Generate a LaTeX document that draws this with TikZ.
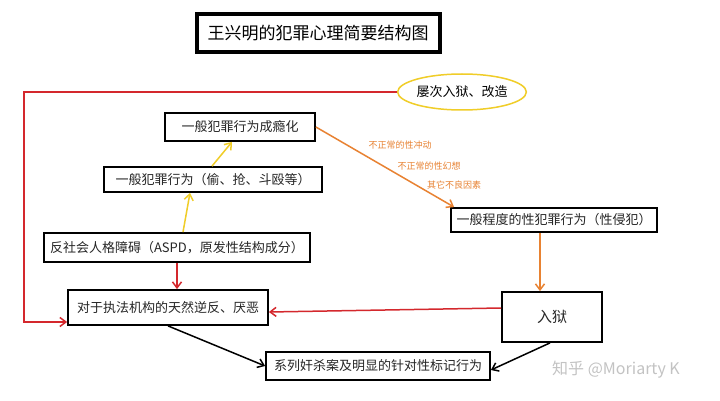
\documentclass[tikz,border=0pt]{standalone}
\usepackage{fontspec}
\setmainfont{Noto Sans CJK SC}
\usetikzlibrary{arrows.meta,shapes.geometric,calc}
\definecolor{cred}{RGB}{212,40,45}
\definecolor{cyel}{RGB}{240,205,40}
\definecolor{corg}{RGB}{232,130,50}
\definecolor{cwm}{RGB}{195,195,195}
\begin{document}
\begin{tikzpicture}[x=1pt,y=-1pt,
  box/.style={draw=black,line width=1.8pt,fill=white,inner sep=0pt,font=\fontsize{13}{15}\selectfont,text=black!85},
  arr/.style={line width=1.5pt,-{Straight Barb[length=6pt,width=9pt]}},
  lab/.style={font=\fontsize{9}{10}\selectfont,text=corg}]
\useasboundingbox (0,0) rectangle (720,401);
\fill[white] (0,0) rectangle (720,401);
% title
\node[draw=black,line width=4pt,minimum width=243pt,minimum height=38pt,inner sep=0pt,font=\fontsize{17}{19}\selectfont] (title) at (318,33) {王兴明的犯罪心理简要结构图};
% nodes
\node[ellipse,draw=cyel,line width=1.5pt,minimum width=128pt,minimum height=36pt,inner sep=0pt,font=\fontsize{13}{15}\selectfont] (ell) at (462,92) {屡次入狱、改造};
\node[box,minimum width=150pt,minimum height=28pt] (cy) at (240,127) {一般犯罪行为成瘾化};
\node[box,minimum width=218pt,minimum height=25pt] (tq) at (213,179.5) {一般犯罪行为（偷、抢、斗殴等）};
\node[box,minimum width=266pt,minimum height=29pt] (aspd) at (177,247.5) {反社会人格障碍（ASPD，原发性结构成分）};
\node[box,minimum width=200pt,minimum height=35pt] (zf) at (168,307.5) {对于执法机构的天然逆反、厌恶};
\node[box,minimum width=206pt,minimum height=24pt] (xqf) at (554,220) {一般程度的性犯罪行为（性侵犯）};
\node[box,minimum width=100pt,minimum height=50pt,font=\fontsize{15}{17}\selectfont] (ry) at (552,317) {入狱};
\node[box,minimum width=224pt,minimum height=28pt] (xl) at (378,366) {系列奸杀案及明显的针对性标记行为};
% labels
\node[lab] (l1) at (400,145) {不正常的性冲动};
\node[lab] (l2) at (429,166) {不正常的性幻想};
\node[lab] (l3) at (454,185) {其它不良因素};
% watermark
\node[font=\fontsize{16}{18}\selectfont,text=cwm] (wm) at (616,370) {知乎 @Moriarty K};
% connectors
\coordinate (c1) at (24,92);
\coordinate (c2) at (24,322);
\draw[arr,draw=cred] (ell.west) -- (c1) -- (c2) -- (c2 -| zf.west);
\draw[arr,draw=cyel] ([xshift=6pt]aspd.north) -- ([xshift=-23pt]tq.south);
\draw[arr,draw=cyel] ([xshift=-1pt]tq.north) -- ([xshift=-8pt]cy.south);
\draw[arr,draw=cred] (aspd.south) -- ([xshift=9pt]zf.north);
\draw[arr,draw=corg] (cy.east) -- ([xshift=4pt]xqf.north west);
\draw[arr,draw=corg] ([xshift=-14pt]xqf.south) -- ([xshift=-12pt]ry.north);
\draw[arr,draw=cred] ([yshift=9pt]ry.west) -- ([yshift=-4.5pt]zf.east);
\draw[arr,draw=black] (zf.south) -- (xl.west);
\draw[arr,draw=black] ([xshift=-2pt]ry.south) -- ([yshift=-4pt]xl.east);
\end{tikzpicture}
\end{document}
